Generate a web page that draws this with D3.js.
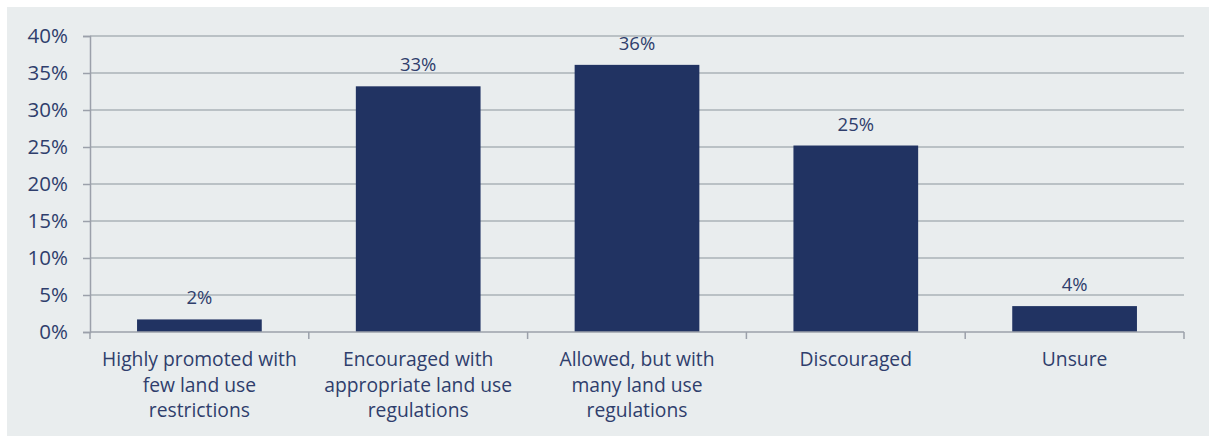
<!DOCTYPE html>
<html>
<head>
<meta charset="utf-8">
<script src="https://cdn.jsdelivr.net/npm/d3@7"></script>
<style>
  html, body { margin: 0; padding: 0; background: #ffffff; }
  svg { display: block; }
  text { font-family: "Open Sans", "Noto Sans", sans-serif; fill: #2f3e6c; font-weight: 400; }
</style>
</head>
<body>
<svg id="chart" width="1209" height="436"></svg>
<script>
const categories = [
  ["Highly promoted with", "few land use", "restrictions"],
  ["Encouraged with", "appropriate land use", "regulations"],
  ["Allowed, but with", "many land use", "regulations"],
  ["Discouraged"],
  ["Unsure"]
];
const values = [1.7, 33.2, 36.1, 25.2, 3.5];
const valueLabels = ["2%", "33%", "36%", "25%", "4%"];
const yTicks = [0, 5, 10, 15, 20, 25, 30, 35, 40];

const svg = d3.select("#chart");
const W = 1209, H = 436;
const margin = { left: 90, right: 25, top: 36, bottom: 104 };

svg.append("rect").attr("x", 7).attr("y", 7).attr("width", W - 7).attr("height", H - 7)
  .attr("fill", "#e9edee");

const x = d3.scaleBand()
  .domain(d3.range(categories.length))
  .range([margin.left, W - margin.right])
  .paddingInner(0.43).paddingOuter(0.215);
const y = d3.scaleLinear().domain([0, 40]).range([H - margin.bottom, margin.top]);

// gridlines
svg.append("g").selectAll("line").data(yTicks.filter(d => d > 0)).join("line")
  .attr("x1", margin.left).attr("x2", W - margin.right)
  .attr("y1", d => y(d)).attr("y2", d => y(d))
  .attr("stroke", "#aab2b7").attr("stroke-width", 1.3);

// y axis
const yAxis = svg.append("g").attr("transform", `translate(${margin.left},0)`)
  .call(d3.axisLeft(y).tickValues(yTicks).tickFormat(d => d + "%").tickSize(7).tickPadding(15));
yAxis.select(".domain").attr("stroke", "#9ba0aa").attr("stroke-width", 1.5);
yAxis.selectAll(".tick line").attr("stroke", "#9ba0aa").attr("stroke-width", 1.5);
yAxis.selectAll(".tick text").attr("font-size", 20.5).attr("fill", "#2f3e6c")
  .attr("font-family", '"Open Sans", sans-serif').attr("font-weight", 400);

// bars
svg.append("g").selectAll("rect").data(values).join("rect")
  .attr("x", (d, i) => x(i)).attr("width", x.bandwidth())
  .attr("y", d => y(d)).attr("height", d => y(0) - y(d))
  .attr("fill", "#213362");

// x axis
const step = x.step();
const xAxisG = svg.append("g").attr("transform", `translate(0,${y(0)})`);
xAxisG.append("line").attr("x1", margin.left).attr("x2", W - margin.right)
  .attr("stroke", "#9ba0aa").attr("stroke-width", 1.5);
const boundaries = d3.range(categories.length + 1).map(i => margin.left + i * step);
xAxisG.selectAll("line.tk").data(boundaries).join("line").attr("class", "tk")
  .attr("x1", d => d).attr("x2", d => d).attr("y1", 0).attr("y2", 7)
  .attr("stroke", "#9ba0aa").attr("stroke-width", 1.5);

// category labels
const catG = svg.append("g");
categories.forEach((lines, i) => {
  const t = catG.append("text")
    .attr("x", x(i) + x.bandwidth() / 2).attr("y", 366)
    .attr("text-anchor", "middle").attr("font-size", 19.3);
  lines.forEach((ln, j) => {
    t.append("tspan").attr("x", x(i) + x.bandwidth() / 2).attr("dy", j === 0 ? 0 : 25.5).text(ln);
  });
});

// value labels
svg.append("g").selectAll("text").data(values).join("text")
  .attr("x", (d, i) => x(i) + x.bandwidth() / 2)
  .attr("y", d => y(d) - 15)
  .attr("text-anchor", "middle").attr("font-size", 18.5)
  .text((d, i) => valueLabels[i]);
</script>
</body>
</html>
